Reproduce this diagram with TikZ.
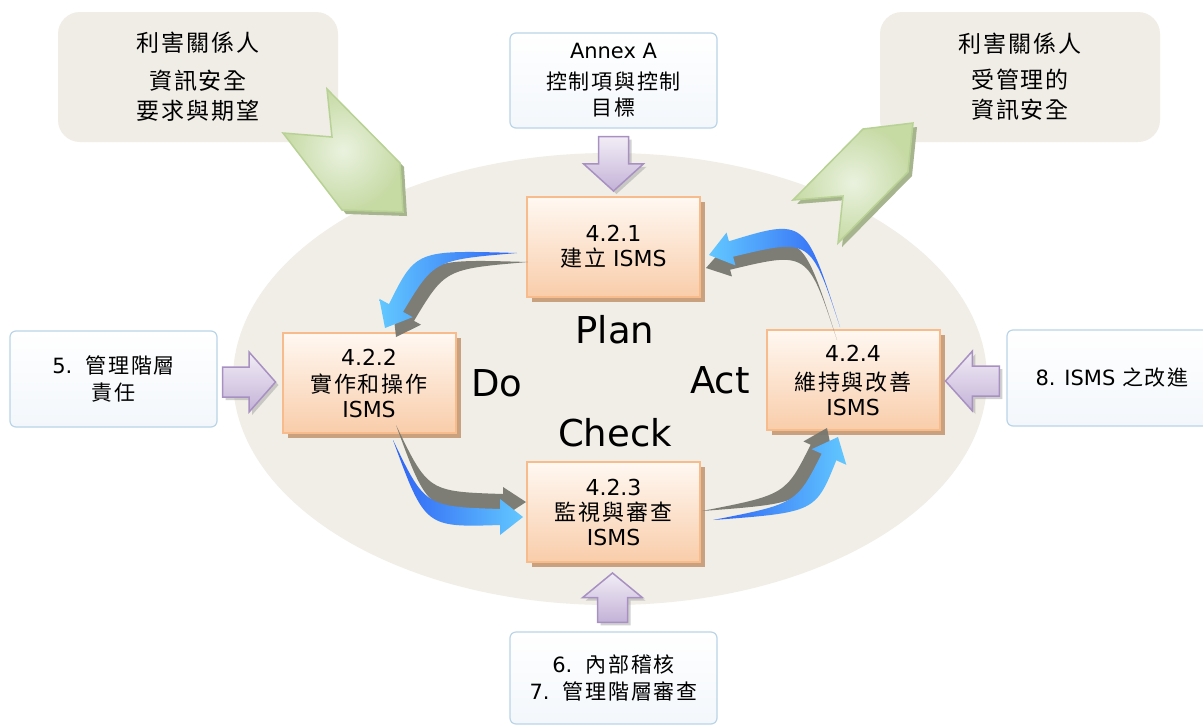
\documentclass[tikz,border=0pt]{standalone}
\usepackage{fontspec}
\setmainfont{DejaVu Sans}
\newfontfamily\cjk[LetterSpace=8]{Noto Sans CJK TC}
\usetikzlibrary{calc,shadows}

\definecolor{ellfill}{HTML}{F0EEE6}
\definecolor{notefill}{HTML}{EFEDE5}
\definecolor{boxline}{HTML}{BAD4E8}
\definecolor{boxbot}{HTML}{F3F7FB}
\definecolor{stepline}{HTML}{F8BC8C}
\definecolor{steptop}{HTML}{FFF8F2}
\definecolor{stepbot}{HTML}{F9CDAA}
\definecolor{stepshade}{HTML}{C9A17E}
\definecolor{lavtop}{HTML}{F2EDF6}
\definecolor{lavbot}{HTML}{C3B2D7}
\definecolor{lavline}{HTML}{A891C2}
\definecolor{leaftop}{HTML}{EAF2DF}
\definecolor{leafbot}{HTML}{C6DAA4}
\definecolor{leafline}{HTML}{B8D195}
\definecolor{leafshade}{HTML}{A6B58E}
\definecolor{flowdark}{HTML}{2F62F5}
\definecolor{flowlight}{HTML}{62C8FF}
\definecolor{flowgray}{HTML}{77776F}

\tikzset{
  notebox/.style={fill=notefill, rounded corners=22pt, minimum width=280pt,
    minimum height=130pt, align=center, font=\cjk\fontsize{23}{30}\selectfont},
  inbox/.style={draw=boxline, line width=1.2pt, rounded corners=6pt, top color=white,
    bottom color=boxbot, align=center, minimum width=207pt, minimum height=96pt,
    font=\fontsize{21}{27}\selectfont},
  stepbox/.style={draw=stepline, line width=2pt, top color=steptop, bottom color=stepbot,
    minimum width=173pt, minimum height=100pt, align=center, font=\fontsize{22}{25}\selectfont,
    drop shadow={shadow xshift=5pt, shadow yshift=-5pt, fill=stepshade, opacity=1}},
  phase/.style={font=\fontsize{37}{37}\selectfont},
  lavarrow/.style={draw=lavline, line width=1.5pt, top color=lavtop, bottom color=lavbot},
  lavshadow/.style={fill=black!40, opacity=.45},
  leafarrow/.style={draw=leafline, line width=1.5pt, inner color=leaftop, outer color=leafbot},
  flowshade/.style={fill=flowgray, opacity=.95},
}

% block arrow: tail, tip
\newcommand\blockarrow[2]{%
  \coordinate (ba-t) at #1;
  \coordinate (ba-h) at #2;
  \coordinate (ba-b) at ($(ba-t)!0.5!(ba-h)$);
  \begin{scope}[transform canvas={shift={(3,3)}}]
    \fill[lavshadow] ($(ba-t)!15pt!90:(ba-h)$) -- ($(ba-b)!15pt!90:(ba-h)$) -- ($(ba-b)!30pt!90:(ba-h)$)
      -- (ba-h) -- ($(ba-b)!30pt!-90:(ba-h)$) -- ($(ba-b)!15pt!-90:(ba-h)$) -- ($(ba-t)!15pt!-90:(ba-h)$) -- cycle;
  \end{scope}
  \path[lavarrow] ($(ba-t)!15pt!90:(ba-h)$) -- ($(ba-b)!15pt!90:(ba-h)$) -- ($(ba-b)!30pt!90:(ba-h)$)
    -- (ba-h) -- ($(ba-b)!30pt!-90:(ba-h)$) -- ($(ba-b)!15pt!-90:(ba-h)$) -- ($(ba-t)!15pt!-90:(ba-h)$) -- cycle;}

% curved arrow: style, tail, control, head base, tip, half shaft, half head
\newcommand\flowarrow[7]{%
  \coordinate (fa-t) at #2;
  \coordinate (fa-c) at #3;
  \coordinate (fa-b) at #4;
  \coordinate (fa-h) at #5;
  \path[#1] (fa-t) .. controls ($(fa-c)!1.3*#6!90:(fa-b)$) .. ($(fa-b)!#6!90:(fa-h)$)
    -- ($(fa-b)!#7!90:(fa-h)$) -- (fa-h) -- ($(fa-b)!#7!-90:(fa-h)$) -- ($(fa-b)!#6!-90:(fa-h)$)
    .. controls ($(fa-c)!1.3*#6!-90:(fa-b)$) .. (fa-t) -- cycle;}

\begin{document}
\begin{tikzpicture}[x=1pt, y=-1pt]
\useasboundingbox (0,0) rectangle (1203,724);
\clip (0,0) rectangle (1203,724);
\fill[white] (0,0) rectangle (1203,724);

% cycle background
\fill[ellfill] (610,379) ellipse [x radius=377, y radius=226];

% stakeholders
\node[notebox] (needs) at (198,77) {利害關係人\\[8pt]資訊安全\\要求與期望};
\node[notebox] (results) at (1020,77) {利害關係人\\[6pt]受管理的\\資訊安全};

% green arrows
\begin{scope}[transform canvas={shift={(4,4)}}]
  \fill[leafshade] (283,133) -- (332,137) -- (327,89) -- (400,163) -- (403,212) -- (342,210) -- cycle;
  \fill[leafshade] (913,123) -- (863,129) -- (793,200) -- (843,196) -- (838,243) -- (908,172) -- cycle;
\end{scope}
\path[leafarrow] (283,133) -- (332,137) -- (327,89) -- (400,163) -- (403,212) -- (342,210) -- cycle;
\path[leafarrow] (913,123) -- (863,129) -- (793,200) -- (843,196) -- (838,243) -- (908,172) -- cycle;

% inputs
\node[inbox, minimum height=95pt] (annexa) at (613.5,80.5) {Annex A\\[4pt]{\cjk 控制項與控制}\\[-1pt]{\cjk 目標}};
\node[inbox] (mgmt) at (113.5,379) {5.\ \ {\cjk 管理階層}\\{\cjk 責任}};
\node[inbox, minimum width=210pt] (improve) at (1112,378) {8. ISMS {\cjk 之改進}};
\node[inbox, minimum height=92pt] (audit) at (613.5,678) {6.\ \ {\cjk 內部稽核}\\7.\ \ {\cjk 管理階層審查}};

% PDCA steps
\node[stepbox] (b421) at (613.5,247) {4.2.1\\{\cjk 建立} ISMS};
\node[stepbox] (b422) at (369,383) {4.2.2\\[2pt]{\cjk 實作和操作}\\ISMS};
\node[stepbox] (b423) at (613.5,512) {4.2.3\\{\cjk 監視與審查}\\ISMS};
\node[stepbox] (b424) at (853,380) {4.2.4\\[4pt]{\cjk 維持與改善}\\ISMS};

\node[phase] (plan) at (615,330) {Plan};
\node[phase] (do) at (497,383) {Do};
\node[phase] (check) at (615,433) {Check};
\node[phase] (act) at (720,380) {Act};

% purple inputs
\blockarrow{($(annexa.south)+(0,8)$)}{($(b421.north)+(0,-5)$)}
\blockarrow{($(mgmt.east)+(5,3)$)}{($(b422.west)+(-6,-1)$)}
\blockarrow{($(improve.west)+(-7,3)$)}{($(b424.east)+(5,1)$)}
\blockarrow{($(audit.north)+(-1,-9)$)}{($(b423.south)+(-1,10)$)}

% cycle arrows, shadows first
\begin{scope}[transform canvas={shift={(11,9)}}]
  \flowarrow{flowshade}{(517,253)}{(425,255)}{(396,308)}{(385,328)}{8pt}{16pt}
\end{scope}
\begin{scope}[transform canvas={shift={(3,-15)}}]
  \flowarrow{flowshade}{(393,440)}{(425,517)}{(500,517)}{(523,517)}{8pt}{15pt}
\end{scope}
\begin{scope}[transform canvas={shift={(-11,-9)}}]
  \flowarrow{flowshade}{(713,520)}{(806,508)}{(829,457)}{(838,437)}{8pt}{16pt}
\end{scope}
\begin{scope}[transform canvas={shift={(-3,13)}}]
  \flowarrow{flowshade}{(840,327)}{(808,228)}{(731,249)}{(709,255)}{8pt}{15pt}
\end{scope}
\flowarrow{left color=flowlight, right color=flowdark}{(517,253)}{(425,255)}{(396,308)}{(385,328)}{8pt}{19pt}
\flowarrow{left color=flowdark, right color=flowlight}{(393,440)}{(425,517)}{(500,517)}{(523,517)}{8pt}{18pt}
\flowarrow{left color=flowdark, right color=flowlight}{(713,520)}{(806,508)}{(829,457)}{(838,437)}{8pt}{19pt}
\flowarrow{left color=flowlight, right color=flowdark}{(840,327)}{(808,228)}{(731,249)}{(709,255)}{8pt}{17pt}
\end{tikzpicture}
\end{document}
